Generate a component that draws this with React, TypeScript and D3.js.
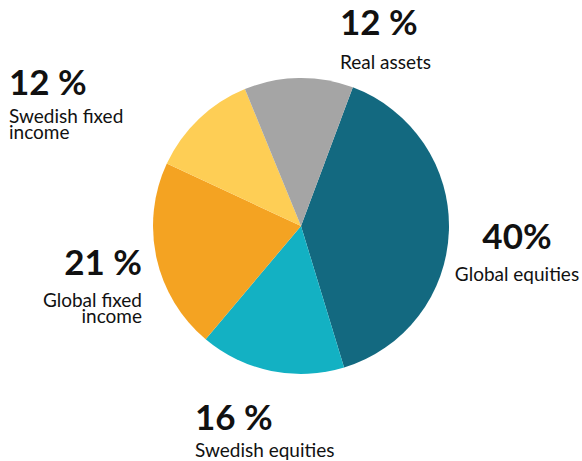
import React from "react";
import * as d3 from "d3";

// allocation shares, clockwise from the top-right
const categories = ["Global equities", "Swedish equities", "Global fixed income", "Swedish fixed income", "Real assets"];
const shares = [40, 16, 21, 12, 12];
const shareLabels = ["40%", "16 %", "21 %", "12 %", "12 %"];
const colors = ["#136980", "#13b1c3", "#f4a322", "#fece55", "#a5a5a5"];

// label layout: anchor point, alignment and the name split into lines
const labelLayout: Record<string, { x: number; y: number; anchor: string; lines: string[]; nameY: number; lineGap: number }> = {
  "Global equities": { x: 517, y: 249, anchor: "middle", lines: ["Global equities"], nameY: 281, lineGap: 0 },
  "Swedish equities": { x: 195, y: 430, anchor: "start", lines: ["Swedish equities"], nameY: 457, lineGap: 0 },
  "Global fixed income": { x: 142, y: 275, anchor: "end", lines: ["Global fixed", "income"], nameY: 307, lineGap: 16 },
  "Swedish fixed income": { x: 9, y: 95, anchor: "start", lines: ["Swedish fixed", "income"], nameY: 123, lineGap: 16 },
  "Real assets": { x: 340, y: 35, anchor: "start", lines: ["Real assets"], nameY: 69, lineGap: 0 },
};

export default function App() {
  const width = 582;
  const height = 461;
  const cx = 301;
  const cy = 226;
  const radius = 148;

  const svgRef = React.useRef<SVGSVGElement>(null);

  React.useEffect(() => {
    const svg = d3.select(svgRef.current);
    svg.selectAll("*").remove();

    const data = categories.map((c, i) => ({ name: c, value: shares[i], label: shareLabels[i], color: colors[i] }));

    const start = (20.5 * Math.PI) / 180;
    const pie = d3
      .pie<any>()
      .sort(null)
      .value((d) => d.value)
      .startAngle(start)
      .endAngle(start + Math.PI * 2);

    const arc = d3.arc<any>().innerRadius(0).outerRadius(radius);

    const g = svg.append("g").attr("transform", `translate(${cx},${cy})`);
    g.selectAll("path")
      .data(pie(data))
      .join("path")
      .attr("d", arc)
      .attr("fill", (d) => d.data.color);

    const labels = svg
      .selectAll(".lbl")
      .data(data)
      .join("g")
      .attr("class", "lbl")
      .style("font-family", "Lato, 'Open Sans', sans-serif")
      .attr("fill", "#111");

    labels
      .append("text")
      .attr("x", (d) => labelLayout[d.name].x)
      .attr("y", (d) => labelLayout[d.name].y)
      .attr("text-anchor", (d) => labelLayout[d.name].anchor)
      .style("font-size", "35px")
      .style("font-weight", "bold")
      .text((d) => d.label);

    labels.each(function (d) {
      const l = labelLayout[d.name];
      const sel = d3.select(this);
      l.lines.forEach((line, i) => {
        sel
          .append("text")
          .attr("x", l.x)
          .attr("y", l.nameY + i * l.lineGap)
          .attr("text-anchor", l.anchor)
          .style("font-size", "19px")
          .text(line);
      });
    });
  }, []);

  return (
    <svg
      ref={svgRef}
      width={width}
      height={height}
      style={{ position: "absolute", left: 0, top: 0, background: "#fff" }}
    />
  );
}
